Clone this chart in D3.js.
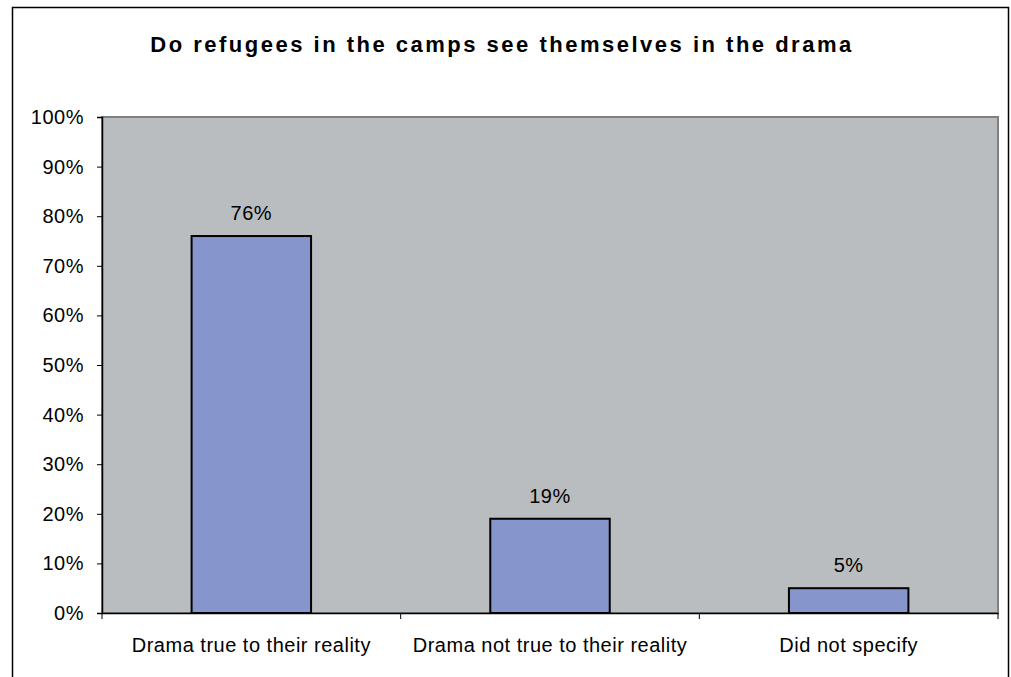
<!DOCTYPE html>
<head>
    <meta charset="utf-8">
    <script src="https://d3js.org/d3.v7.min.js"></script>
    <style>
        body {
            margin: 0;
            background: #fff;
            font-family: "Liberation Sans", Arial, sans-serif;
        }
        .tick text {
            font-size: 20px;
            fill: #000;
        }
        .title {
            font-size: 22px;
            font-weight: bold;
        }
    </style>
</head>

<body>
<div id="vis"></div>

<script>
    // data
    var categories = ["Drama true to their reality", "Drama not true to their reality", "Did not specify"];
    var values = [76, 19, 5];
    var valueLabels = ["76%", "19%", "5%"];
    var yTicks = [0, 10, 20, 30, 40, 50, 60, 70, 80, 90, 100];
    var title = "Do refugees in the camps see themselves in the drama";

    var W = 1011, H = 677;
    var margin = {top: 117, right: 13, bottom: 64, left: 102},
        width = W - margin.left - margin.right,
        height = H - margin.top - margin.bottom;

    var svg = d3.select("#vis")
        .append("svg")
        .attr("width", W)
        .attr("height", H);

    // outer chart frame (runs off the bottom)
    svg.append("rect")
        .attr("x", 12.5)
        .attr("y", 7.5)
        .attr("width", 996)
        .attr("height", 700)
        .attr("fill", "#fff")
        .attr("stroke", "#000")
        .attr("stroke-width", 1.5);

    svg.append("text")
        .attr("class", "title")
        .attr("x", 502)
        .attr("y", 52)
        .attr("text-anchor", "middle")
        .style("letter-spacing", "2.5px")
        .text(title);

    var x = d3.scaleBand()
        .domain(categories)
        .range([0, width])
        .padding(0);

    var y = d3.scaleLinear()
        .domain([0, 100])
        .range([height, 0]);

    var g = svg.append("g")
        .attr("transform", "translate(" + margin.left + "," + margin.top + ")");

    // plot area
    g.append("rect")
        .attr("width", width)
        .attr("height", height)
        .attr("fill", "#b9bdbf")
        .attr("stroke", "#808080")
        .attr("stroke-width", 2);

    var barW = x.bandwidth() * 0.4;

    g.selectAll(".bar")
        .data(values)
        .enter()
        .append("rect")
        .attr("class", "bar")
        .attr("x", function(d, i) { return x(categories[i]) + (x.bandwidth() - barW) / 2; })
        .attr("y", function(d) { return y(d); })
        .attr("width", barW)
        .attr("height", function(d) { return height - y(d); })
        .attr("fill", "#8696cc")
        .attr("stroke", "#000")
        .attr("stroke-width", 2);

    g.selectAll(".lbl")
        .data(values)
        .enter()
        .append("text")
        .attr("class", "lbl")
        .attr("x", function(d, i) { return x(categories[i]) + x.bandwidth() / 2; })
        .attr("y", function(d) { return y(d) - 16; })
        .attr("text-anchor", "middle")
        .style("font-size", "20px")
        .style("letter-spacing", "0.5px")
        .text(function(d, i) { return valueLabels[i]; });

    // y axis
    var yAxis = g.append("g")
        .call(d3.axisLeft(y)
            .tickValues(yTicks)
            .tickSize(5)
            .tickPadding(13)
            .tickFormat(function(d) { return d + "%"; }));
    yAxis.select(".domain").attr("stroke", "#000").attr("stroke-width", 1.5);
    yAxis.selectAll(".tick line").attr("stroke", "#000");
    yAxis.selectAll(".tick text").style("letter-spacing", "0.5px");

    // x axis: ticks sit at category boundaries
    var xAxis = g.append("g")
        .attr("transform", "translate(0," + height + ")")
        .call(d3.axisBottom(x).tickSize(0).tickPadding(25));
    xAxis.select(".domain").attr("stroke", "#000").attr("stroke-width", 1.5);
    xAxis.selectAll(".tick text").style("letter-spacing", "0.5px");

    xAxis.selectAll(".sep")
        .data(categories.concat([null]))
        .enter()
        .append("line")
        .attr("class", "sep")
        .attr("x1", function(d, i) { return i * x.bandwidth(); })
        .attr("x2", function(d, i) { return i * x.bandwidth(); })
        .attr("y1", 0)
        .attr("y2", 6)
        .attr("stroke", "#000");
</script>
</body>
